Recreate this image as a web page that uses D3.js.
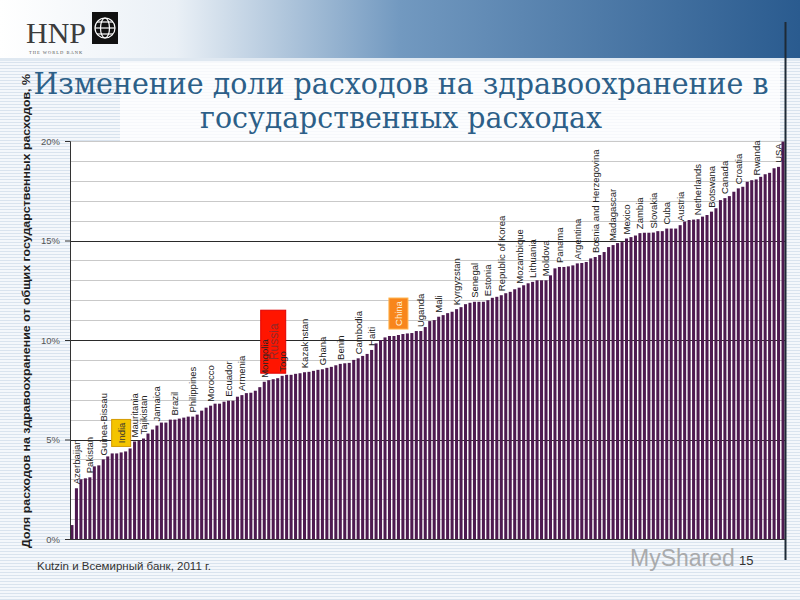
<!DOCTYPE html>
<html>
<head>
<meta charset="utf-8">
<script src="https://cdn.jsdelivr.net/npm/d3@7"></script>
<style>
  body { margin: 0; background: #fff; }
  svg { display: block; }
</style>
</head>
<body>
<div id="c"></div>
<script>
// share of health spending in total government spending, %, sorted
var values = [
	0.7, 2.55, 3.0, 3.05, 3.1, 3.65, 3.7, 4.0, 4.15, 4.3,
	4.3, 4.35, 4.4, 4.55, 4.9, 4.95, 5.05, 5.3, 5.5, 5.7,
	5.85, 5.85, 6.0, 6.0, 6.05, 6.1, 6.15, 6.15, 6.25, 6.45,
	6.6, 6.7, 6.8, 6.8, 6.9, 6.95, 6.95, 7.15, 7.23, 7.33,
	7.35, 7.45, 7.63, 7.9, 7.98, 8.03, 8.08, 8.2, 8.25, 8.25,
	8.3, 8.33, 8.38, 8.4, 8.45, 8.5, 8.53, 8.6, 8.65, 8.73,
	8.8, 8.83, 8.85, 9.0, 9.08, 9.2, 9.3, 9.5, 9.83, 10.0,
	10.13, 10.2, 10.2, 10.25, 10.3, 10.33, 10.35, 10.45, 10.45, 10.65,
	10.95, 11.0, 11.17, 11.25, 11.35, 11.42, 11.55, 11.65, 11.8, 11.87,
	11.92, 11.92, 11.92, 12.0, 12.12, 12.17, 12.25, 12.35, 12.42, 12.55,
	12.63, 12.75, 12.85, 12.92, 13.0, 13.0, 13.0, 13.25, 13.6, 13.67,
	13.67, 13.7, 13.75, 13.85, 13.87, 13.92, 14.1, 14.17, 14.27, 14.42,
	14.67, 14.77, 14.87, 14.92, 15.1, 15.17, 15.25, 15.37, 15.39, 15.39,
	15.4, 15.47, 15.47, 15.6, 15.6, 15.6, 15.77, 15.95, 16.03, 16.05,
	16.07, 16.2, 16.28, 16.45, 16.62, 17.03, 17.13, 17.23, 17.45, 17.62,
	17.7, 17.95, 18.03, 18.07, 18.2, 18.33, 18.4, 18.63, 18.7, 19.97
];

// labelled countries and the bar each one sits on
var labelNames = ["Azerbaijan", "Pakistan", "Guinea-Bissau", "India", "Mauritania", "Tajikistan",
	"Jamaica", "Brazil", "Philippines", "Morocco", "Ecuador", "Armenia", "Mongolia", "Russia", "Togo",
	"Kazakhstan", "Ghana", "Benin", "Cambodia", "Haiti", "China", "Uganda", "Mali", "Kyrgyzstan",
	"Senegal", "Estonia", "Republic of Korea", "Mozambique", "Lithuania", "Moldova", "Panama",
	"Argentina", "Bosnia and Herzegovina", "Madagascar", "Mexico", "Zambia", "Slovakia", "Cuba",
	"Austria", "Netherlands", "Botswana", "Canada", "Croatia", "Rwanda", "USA"];
var labelBars = [1, 4, 7, 11, 14, 16,
	19, 23, 27, 31, 35, 38, 43, 45, 47,
	52, 56, 60, 64, 67, 73, 78, 82, 86,
	90, 93, 96, 100, 103, 106, 109,
	113, 117, 121, 124, 127, 130, 133,
	136, 140, 143, 146, 149, 153, 158];

var yTicks = [0, 5, 10, 15, 20];

var titleLines = ["Изменение доли расходов на здравоохранение в", "государственных расходах"];
var yTitle = "Доля расходов на здравоохранение от общих государственных расходов, %";
var source = "Kutzin и Всемирный банк, 2011 г.";

var width = 800, height = 600;
var x0 = 70, x1 = 785, yTop = 141, yBot = 539;

var svg = d3.select("#c").append("svg")
	.attr("width", width)
	.attr("height", height);

var defs = svg.append("defs");

var stripes = defs.append("pattern")
	.attr("id", "stripes")
	.attr("width", 8).attr("height", 3)
	.attr("patternUnits", "userSpaceOnUse");
stripes.append("rect").attr("width", 8).attr("height", 3).attr("fill", "#f4f7fb");
stripes.append("rect").attr("y", 2).attr("width", 8).attr("height", 1).attr("fill", "#d9e3ee");

var banner = defs.append("linearGradient")
	.attr("id", "banner")
	.attr("x1", "0%").attr("y1", "0%")
	.attr("x2", "100%").attr("y2", "0%");
banner.append("stop").attr("offset", "0%").attr("stop-color", "#ffffff");
banner.append("stop").attr("offset", "22%").attr("stop-color", "#eaf0f6");
banner.append("stop").attr("offset", "50%").attr("stop-color", "#7299c0");
banner.append("stop").attr("offset", "100%").attr("stop-color", "#2a5b8f");

// background
svg.append("rect").attr("width", width).attr("height", height).attr("fill", "url(#stripes)");
svg.append("rect").attr("x", 120).attr("y", 62).attr("width", 660).attr("height", 470)
	.attr("fill", "#ffffff").attr("opacity", 0.75);
svg.append("rect").attr("width", width).attr("height", 60).attr("fill", "url(#banner)");
svg.append("rect").attr("y", 58).attr("width", width).attr("height", 3).attr("fill", "#dfe8f1");

// logos
svg.append("text")
	.attr("x", 26).attr("y", 43)
	.attr("font-family", "Liberation Serif, serif")
	.attr("font-size", 30)
	.attr("fill", "#3c3c3c")
	.text("HNP");
svg.append("text")
	.attr("x", 29).attr("y", 54)
	.attr("font-family", "Liberation Serif, serif")
	.attr("font-size", 4.5)
	.attr("letter-spacing", 1)
	.attr("fill", "#555")
	.text("THE WORLD BANK");
svg.append("rect").attr("x", 92).attr("y", 12).attr("width", 26).attr("height", 32).attr("fill", "#111");
var globe = svg.append("g").attr("fill", "none").attr("stroke", "#fff").attr("stroke-width", 1.2);
globe.append("circle").attr("cx", 105).attr("cy", 28).attr("r", 10);
globe.append("ellipse").attr("cx", 105).attr("cy", 28).attr("rx", 4.5).attr("ry", 10);
globe.append("line").attr("x1", 95).attr("x2", 115).attr("y1", 28).attr("y2", 28);
globe.append("line").attr("x1", 97).attr("x2", 113).attr("y1", 22).attr("y2", 22);
globe.append("line").attr("x1", 97).attr("x2", 113).attr("y1", 34).attr("y2", 34);

// title
svg.append("text")
	.attr("x", 401).attr("y", 94)
	.attr("text-anchor", "middle")
	.attr("font-family", "DejaVu Serif, serif")
	.attr("font-size", 29)
	.attr("fill", "#2c5f88")
	.attr("textLength", 735)
	.attr("lengthAdjust", "spacingAndGlyphs")
	.text(titleLines[0]);
svg.append("text")
	.attr("x", 401).attr("y", 128)
	.attr("text-anchor", "middle")
	.attr("font-family", "DejaVu Serif, serif")
	.attr("font-size", 29)
	.attr("fill", "#2c5f88")
	.attr("textLength", 402)
	.attr("lengthAdjust", "spacingAndGlyphs")
	.text(titleLines[1]);

// scales
var x_scale = d3.scaleBand()
	.domain(d3.range(values.length))
	.range([x0, x1])
	.paddingInner(0.32)
	.paddingOuter(0.1);

var y_scale = d3.scaleLinear()
	.domain([0, 20])
	.range([yBot, yTop]);

// plot background
svg.append("rect")
	.attr("x", x0).attr("y", yTop)
	.attr("width", x1 - x0).attr("height", yBot - yTop)
	.attr("fill", "#ffffff");

// grid
svg.append("g")
	.selectAll("line")
	.data(d3.range(1, 21).filter(function(d) { return d % 5 !== 0 || d === 20; }))
	.enter()
	.append("line")
	.attr("x1", x0).attr("x2", x1)
	.attr("y1", function(d) { return Math.round(y_scale(d)) + 0.5; })
	.attr("y2", function(d) { return Math.round(y_scale(d)) + 0.5; })
	.attr("stroke", "#c9c9c9")
	.attr("stroke-width", 1);

svg.append("g")
	.selectAll("line")
	.data([5, 10, 15])
	.enter()
	.append("line")
	.attr("x1", x0).attr("x2", x1)
	.attr("y1", function(d) { return Math.round(y_scale(d)) + 0.5; })
	.attr("y2", function(d) { return Math.round(y_scale(d)) + 0.5; })
	.attr("stroke", "#2a2a2a")
	.attr("stroke-width", 1);

// bars
svg.append("g")
	.selectAll("rect")
	.data(values)
	.enter()
	.append("rect")
	.attr("x", function(d, i) { return x_scale(i); })
	.attr("width", x_scale.bandwidth())
	.attr("y", function(d) { return y_scale(d); })
	.attr("height", function(d) { return yBot - y_scale(d); })
	.attr("fill", "#4e1a50");

// y axis
var y_axis = svg.append("g")
	.attr("transform", "translate(" + x0 + ",0)")
	.call(d3.axisLeft(y_scale)
		.tickValues(yTicks)
		.tickSize(5)
		.tickFormat(function(d) { return d + "%"; }));
y_axis.select(".domain").attr("stroke", "#333");
y_axis.selectAll(".tick line").attr("stroke", "#333");
y_axis.selectAll(".tick text")
	.attr("x", -10)
	.attr("font-family", "Liberation Sans, Arial, sans-serif")
	.attr("font-size", 9.5)
	.attr("fill", "#555");

svg.append("line")
	.attr("x1", x0).attr("x2", x1)
	.attr("y1", yBot + 0.5).attr("y2", yBot + 0.5)
	.attr("stroke", "#333");

// right edge line of the slide
svg.append("line")
	.attr("x1", x1 + 0.5).attr("x2", x1 + 0.5)
	.attr("y1", 22).attr("y2", 560)
	.attr("stroke", "#1e2a36")
	.attr("stroke-width", 2);

// y title
svg.append("text")
	.attr("transform", "translate(30,311) rotate(-90)")
	.attr("text-anchor", "middle")
	.attr("font-family", "Liberation Sans, Arial, sans-serif")
	.attr("font-size", 10.5)
	.attr("font-weight", "bold")
	.attr("fill", "#1e1e1e")
	.attr("textLength", 474)
	.attr("lengthAdjust", "spacingAndGlyphs")
	.text(yTitle);

// country labels, a few with highlight boxes
var boxStyle = {
	"India":  { fill: "#f4c400", stroke: "#d49a00", text: "#333", size: 9.5, w: 19, h: 27 },
	"Russia": { fill: "#ff1500", stroke: "#e00000", text: "#8f2a2a", size: 12, w: 25, h: 63 },
	"China":  { fill: "#f8861c", stroke: "#ffb34d", text: "#fff1d8", size: 9.5, w: 19, h: 31 }
};

var labelPos = labelNames.map(function(name, k) {
	var i = labelBars[k];
	return { name: name, cx: x_scale(i) + x_scale.bandwidth() / 2, top: y_scale(values[i]), st: boxStyle[name] };
});

var boxes = svg.append("g");
var labels = svg.append("g");
labelPos.forEach(function(p) {
	var st = p.st;
	if (st) {
		boxes.append("rect")
			.attr("x", p.cx - st.w / 2)
			.attr("y", p.top - 6 - st.h)
			.attr("width", st.w)
			.attr("height", st.h)
			.attr("fill", st.fill)
			.attr("stroke", st.stroke)
			.attr("stroke-width", 1);
		labels.append("text")
			.attr("transform", "translate(" + (p.cx + st.size * 0.36) + "," + (p.top - 6 - st.h / 2) + ") rotate(-90)")
			.attr("text-anchor", "middle")
			.attr("font-family", "Liberation Sans, Arial, sans-serif")
			.attr("font-size", st.size)
			.attr("fill", st.text)
			.text(p.name);
	} else {
		labels.append("text")
			.attr("transform", "translate(" + (p.cx + 3.4) + "," + (p.top - 4) + ") rotate(-90)")
			.attr("font-family", "Liberation Sans, Arial, sans-serif")
			.attr("font-size", 9.5)
			.attr("fill", "#222")
			.text(p.name);
	}
});

// footer
svg.append("text")
	.attr("x", 37).attr("y", 570)
	.attr("font-family", "Liberation Sans, Arial, sans-serif")
	.attr("font-size", 11.5)
	.attr("fill", "#333")
	.text(source);

svg.append("text")
	.attr("x", 630).attr("y", 566)
	.attr("font-family", "Liberation Sans, Arial, sans-serif")
	.attr("font-size", 23)
	.attr("fill", "#9a9a9a")
	.attr("opacity", 0.8)
	.text("MyShared");

svg.append("text")
	.attr("x", 739).attr("y", 565)
	.attr("font-family", "Liberation Sans, Arial, sans-serif")
	.attr("font-size", 13)
	.attr("fill", "#333")
	.text("15");
</script>
</body>
</html>
